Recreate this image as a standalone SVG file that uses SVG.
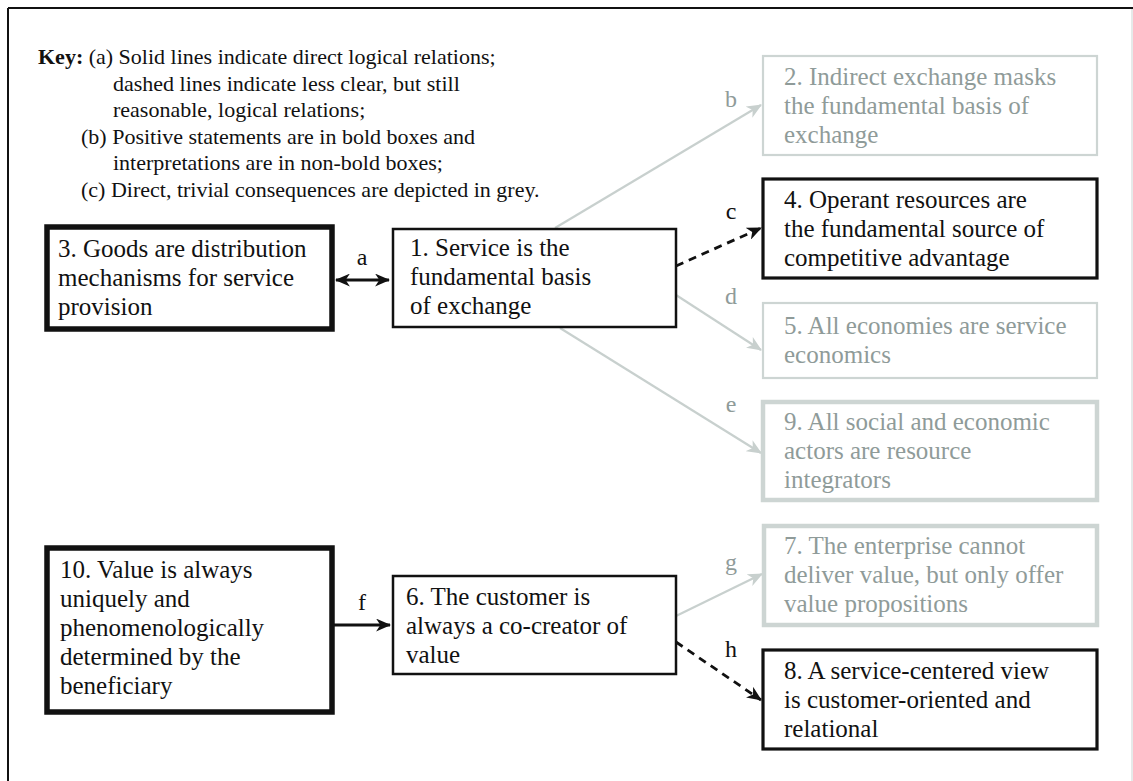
<svg xmlns="http://www.w3.org/2000/svg" width="1133" height="781" viewBox="0 0 1133 781">
<style>
text{font-family:"Liberation Serif","Times New Roman",serif;}
.key{font-size:22px;fill:#111;}
.bt{font-size:25px;fill:#111;}
.gt{font-size:25px;fill:#8f9b99;}
.lbl{font-size:24px;fill:#111;text-anchor:middle;}
.glbl{font-size:24px;fill:#8f9b99;text-anchor:middle;}
.thick{fill:#fff;stroke:#111;stroke-width:5.5;}
.norm{fill:#fff;stroke:#111;stroke-width:2.5;}
.pos{fill:#fff;stroke:#111;stroke-width:3.2;}
.grey{fill:#fff;stroke:#cdd5d3;stroke-width:2.2;}
.greythick{fill:#fff;stroke:#cdd5d3;stroke-width:4.5;}
.cb{stroke:#111;stroke-width:2.8;fill:none;}
.cd{stroke:#111;stroke-width:2.8;fill:none;stroke-dasharray:8 6;}
.cg{stroke:#c8d0ce;stroke-width:2.2;fill:none;}
</style>
<defs>
<marker id="ab" viewBox="0 0 14 12" refX="13" refY="6" markerWidth="15" markerHeight="13" markerUnits="userSpaceOnUse" orient="auto-start-reverse">
<path d="M0,0 L14,6 L0,12 L4,6 z" fill="#111"/>
</marker>
<marker id="ag" viewBox="0 0 14 12" refX="13" refY="6" markerWidth="15" markerHeight="13" markerUnits="userSpaceOnUse" orient="auto">
<path d="M0,0 L14,6 L0,12 L4,6 z" fill="#c8d0ce"/>
</marker>
</defs>
<rect width="1133" height="781" fill="#fff"/>
<g id="frame">
<line x1="8" y1="8" x2="1133" y2="8" stroke="#111" stroke-width="2"/>
<line x1="8" y1="8" x2="8" y2="781" stroke="#111" stroke-width="2"/>
<line x1="1132" y1="9" x2="1132" y2="781" stroke="#d6dcdb" stroke-width="1.2"/>
</g>
<g id="key">
<text class="key" x="38" y="64"><tspan font-weight="bold">Key:</tspan> (a) Solid lines indicate direct logical relations;</text>
<text class="key" x="113" y="91">dashed lines indicate less clear, but still</text>
<text class="key" x="113" y="117">reasonable, logical relations;</text>
<text class="key" x="81" y="144">(b) Positive statements are in bold boxes and</text>
<text class="key" x="113" y="170">interpretations are in non-bold boxes;</text>
<text class="key" x="81" y="197">(c) Direct, trivial consequences are depicted in grey.</text>
</g>
<g id="connectors">
<line class="cb" x1="336" y1="280" x2="389" y2="280" marker-start="url(#ab)" marker-end="url(#ab)"/>
<line class="cg" x1="555" y1="228" x2="761" y2="105" marker-end="url(#ag)"/>
<line class="cd" x1="676" y1="266" x2="761" y2="228" marker-end="url(#ab)"/>
<line class="cg" x1="676" y1="295" x2="761" y2="350" marker-end="url(#ag)"/>
<line class="cg" x1="560" y1="328" x2="761" y2="453" marker-end="url(#ag)"/>
<line class="cb" x1="332" y1="625" x2="390" y2="625" marker-end="url(#ab)"/>
<line class="cg" x1="676" y1="616" x2="762" y2="574" marker-end="url(#ag)"/>
<line class="cd" x1="676" y1="642" x2="761" y2="700" marker-end="url(#ab)"/>
<text class="lbl" x="362" y="265">a</text>
<text class="glbl" x="731" y="107">b</text>
<text class="lbl" x="731" y="219">c</text>
<text class="glbl" x="731" y="304">d</text>
<text class="glbl" x="731" y="412">e</text>
<text class="lbl" x="362" y="610">f</text>
<text class="glbl" x="731" y="570">g</text>
<text class="lbl" x="731" y="657">h</text>
</g>
<g id="n3">
<rect class="thick" x="47" y="227" width="285" height="102"/>
<text class="bt" x="58" y="257">3. Goods are distribution</text>
<text class="bt" x="58" y="286">mechanisms for service</text>
<text class="bt" x="58" y="315">provision</text>
</g>
<g id="n1">
<rect class="norm" x="393" y="229" width="283" height="98"/>
<text class="bt" x="410" y="256">1. Service is the</text>
<text class="bt" x="410" y="285">fundamental basis</text>
<text class="bt" x="410" y="314">of exchange</text>
</g>
<g id="n2">
<rect class="grey" x="763" y="56" width="334" height="99"/>
<text class="gt" x="784" y="85">2. Indirect exchange masks</text>
<text class="gt" x="784" y="114">the fundamental basis of</text>
<text class="gt" x="784" y="143">exchange</text>
</g>
<g id="n4">
<rect class="pos" x="763" y="179" width="334" height="99"/>
<text class="bt" x="784" y="208">4. Operant resources are</text>
<text class="bt" x="784" y="237">the fundamental source of</text>
<text class="bt" x="784" y="266">competitive advantage</text>
</g>
<g id="n5">
<rect class="grey" x="763" y="303" width="334" height="75"/>
<text class="gt" x="784" y="334">5. All economies are service</text>
<text class="gt" x="784" y="363">economics</text>
</g>
<g id="n9">
<rect class="greythick" x="763" y="402" width="334" height="98"/>
<text class="gt" x="784" y="430">9. All social and economic</text>
<text class="gt" x="784" y="459">actors are resource</text>
<text class="gt" x="784" y="488">integrators</text>
</g>
<g id="n10">
<rect class="thick" x="47" y="548" width="285" height="164"/>
<text class="bt" x="60" y="578">10. Value is always</text>
<text class="bt" x="60" y="607">uniquely and</text>
<text class="bt" x="60" y="636">phenomenologically</text>
<text class="bt" x="60" y="665">determined by the</text>
<text class="bt" x="60" y="694">beneficiary</text>
</g>
<g id="n6">
<rect class="norm" x="393" y="576" width="283" height="98"/>
<text class="bt" x="406" y="605">6. The customer is</text>
<text class="bt" x="406" y="634">always a co-creator of</text>
<text class="bt" x="406" y="663">value</text>
</g>
<g id="n7">
<rect class="greythick" x="764" y="526" width="333" height="99"/>
<text class="gt" x="784" y="554">7. The enterprise cannot</text>
<text class="gt" x="784" y="583">deliver value, but only offer</text>
<text class="gt" x="784" y="612">value propositions</text>
</g>
<g id="n8">
<rect class="pos" x="763" y="650" width="334" height="99"/>
<text class="bt" x="784" y="679">8. A service-centered view</text>
<text class="bt" x="784" y="708">is customer-oriented and</text>
<text class="bt" x="784" y="737">relational</text>
</g>
</svg>
